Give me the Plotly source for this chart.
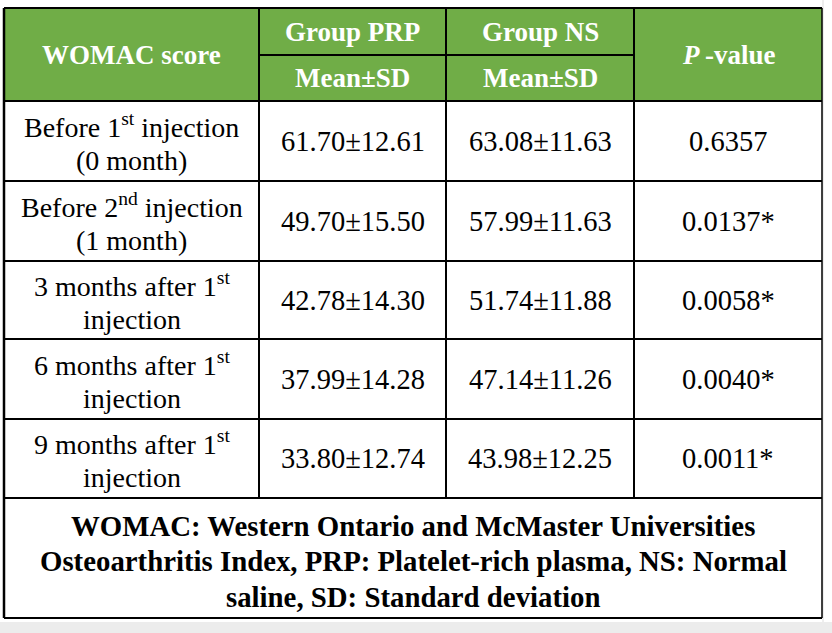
import plotly.graph_objects as go

# table content
time_points = [
    "Before 1<sup>st</sup> injection<br>(0 month)",
    "Before 2<sup>nd</sup> injection<br>(1 month)",
    "3 months after 1<sup>st</sup><br>injection",
    "6 months after 1<sup>st</sup><br>injection",
    "9 months after 1<sup>st</sup><br>injection",
]
prp_mean = [61.70, 49.70, 42.78, 37.99, 33.80]
prp_sd = [12.61, 15.50, 14.30, 14.28, 12.74]
ns_mean = [63.08, 57.99, 51.74, 47.14, 43.98]
ns_sd = [11.63, 11.63, 11.88, 11.26, 12.25]
p_values = [0.6357, 0.0137, 0.0058, 0.0040, 0.0011]
footnote = ("WOMAC: Western Ontario and McMaster Universities<br>"
            "Osteoarthritis Index, PRP: Platelet-rich plasma, NS: Normal<br>"
            "saline, SD: Standard deviation")

# grid (pixels)
W, H = 832, 633
col_edges = [4, 259, 446, 634, 822]
row_edges = [8, 101, 181, 261, 339, 419, 498, 618]
head_mid = 55
green = "#70AD47"
font = "Liberation Serif"

fig = go.Figure()
shapes = []
ann = []

def line(x0, y0, x1, y1, w=2, c="black"):
    shapes.append(dict(type="line", x0=x0, y0=y0, x1=x1, y1=y1,
                       xref="x", yref="y", line=dict(color=c, width=w)))

def text(x, y, s, size=28, color="black", bold=False, gap=35, dy=0):
    parts = s.split("<br>")
    n = len(parts)
    for k, p in enumerate(parts):
        if bold:
            p = "<b>" + p + "</b>"
        yy = y + dy + (k - (n - 1) / 2) * gap
        ann.append(dict(x=x, y=yy, xref="x", yref="y", text=p, showarrow=False,
                        xanchor="center", yanchor="middle",
                        font=dict(family=font, size=size, color=color)))

# page strip at bottom and page edge
shapes.append(dict(type="rect", x0=0, y0=622, x1=W, y1=H, xref="x", yref="y",
                   fillcolor="#ececec", line=dict(width=0), layer="below"))
line(823, 0, 823, 622, w=1, c="#dcdcdc")

# header fill
shapes.append(dict(type="rect", x0=col_edges[0], y0=row_edges[0], x1=col_edges[-1],
                   y1=row_edges[1], xref="x", yref="y", fillcolor=green,
                   line=dict(width=0), layer="below"))

# horizontal rules
for y in row_edges:
    line(col_edges[0], y, col_edges[-1], y)
line(col_edges[1], head_mid, col_edges[3], head_mid)
# vertical rules
line(col_edges[0], row_edges[0], col_edges[0], row_edges[-1], w=2.5)
line(col_edges[-1], row_edges[0], col_edges[-1], row_edges[-1], w=1.5)
for x in col_edges[1:-1]:
    line(x, row_edges[0], x, row_edges[-2])

cx = [(col_edges[i] + col_edges[i + 1]) / 2 for i in range(4)]

# header text
hdr = dict(size=27, color="white", bold=True)
text(cx[0], head_mid, "WOMAC score", **hdr)
text(cx[1], (row_edges[0] + head_mid) / 2, "Group PRP", **hdr)
text(cx[1], (head_mid + row_edges[1]) / 2, "Mean±SD", **hdr)
text(cx[2], (row_edges[0] + head_mid) / 2, "Group NS", **hdr)
text(cx[2], (head_mid + row_edges[1]) / 2, "Mean±SD", **hdr)
text(cx[3], head_mid, "<i>P</i>\u2009-value", **hdr)

# body
for i in range(len(time_points)):
    yc = (row_edges[i + 1] + row_edges[i + 2]) / 2
    text(cx[0], yc, time_points[i], dy=1.5)
    text(cx[1], yc, f"{prp_mean[i]:.2f}±{prp_sd[i]:.2f}", size=28.5)
    text(cx[2], yc, f"{ns_mean[i]:.2f}±{ns_sd[i]:.2f}", size=28.5)
    pv = f"{p_values[i]:.4f}" + ("*" if p_values[i] < 0.05 else "")
    text(cx[3], yc, pv, size=28.5)

text((col_edges[0] + col_edges[-1]) / 2, (row_edges[-2] + row_edges[-1]) / 2,
     footnote, size=28.8, bold=True, gap=35.5, dy=3)

fig.update_layout(
    width=W, height=H, margin=dict(l=0, r=0, t=0, b=0),
    paper_bgcolor="white", plot_bgcolor="white",
    xaxis=dict(range=[0, W], visible=False, fixedrange=True),
    yaxis=dict(range=[H, 0], visible=False, fixedrange=True),
    shapes=shapes, annotations=ann, showlegend=False,
)
fig.write_html("out.html", config={"displayModeBar": False},
               post_script="document.body.style.margin='0';")
